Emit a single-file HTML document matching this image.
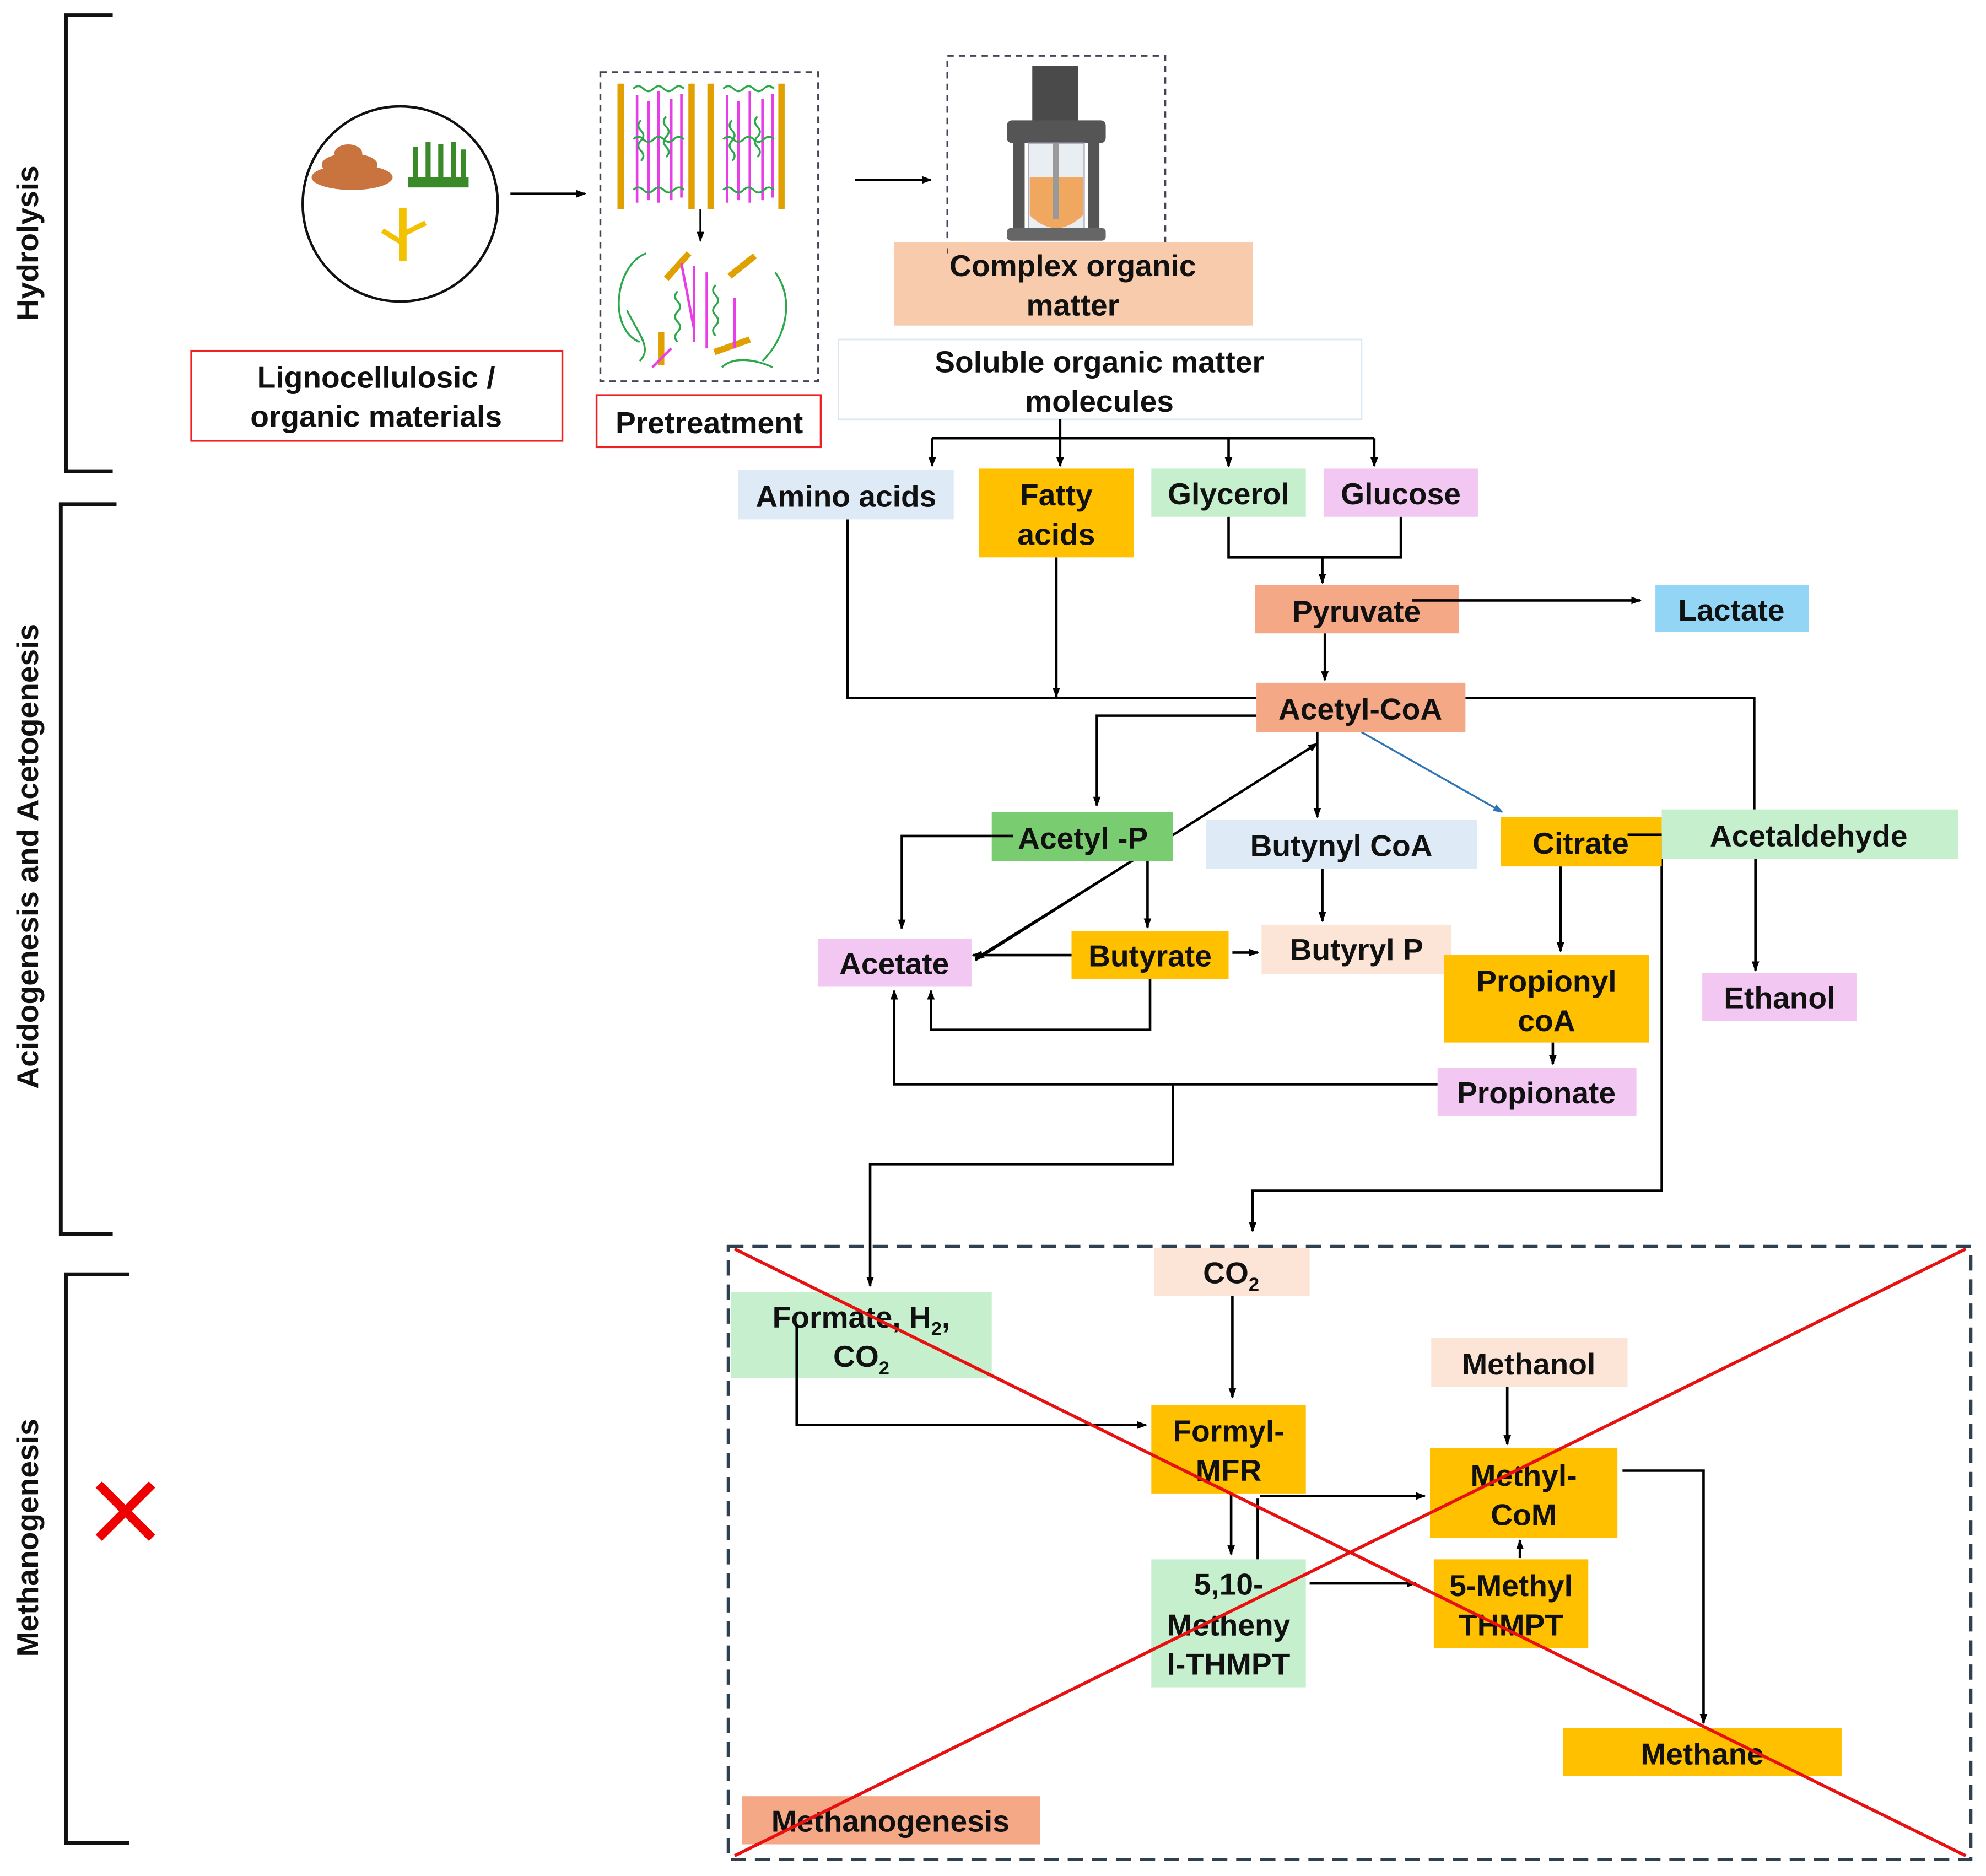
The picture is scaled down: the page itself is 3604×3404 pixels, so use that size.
<!DOCTYPE html>
<html><head><meta charset="utf-8"><style>
html,body{margin:0;padding:0;background:#fff;}
svg{display:block;}
text{font-family:"Liberation Sans",Arial,sans-serif;font-weight:bold;font-size:24px;fill:#111;text-anchor:middle;}
</style></head><body>
<svg width="3604" height="3404" viewBox="0 0 1568 1481" preserveAspectRatio="none" xmlns="http://www.w3.org/2000/svg">
<defs>
<marker id="a" markerWidth="8" markerHeight="8" refX="7" refY="4" orient="auto" markerUnits="userSpaceOnUse"><path d="M0,1 L8,4 L0,7 Z" fill="#000"/></marker>
<marker id="b" markerWidth="8" markerHeight="8" refX="7" refY="4" orient="auto" markerUnits="userSpaceOnUse"><path d="M0,1 L8,4 L0,7 Z" fill="#2E75B6"/></marker>
</defs>
<rect width="1568" height="1481" fill="#fff"/>
<!-- brackets -->
<g stroke="#111" stroke-width="3" fill="none">
<path d="M89,12 H52 V372 H89"/>
<path d="M92,398 H48 V974 H89"/>
<path d="M102,1006 H52 V1455 H102"/>
</g>
<text transform="translate(30,192) rotate(-90)">Hydrolysis</text>
<text transform="translate(30,676) rotate(-90)">Acidogenesis and Acetogenesis</text>
<text transform="translate(30,1214) rotate(-90)">Methanogenesis</text>
<path d="M78,1172 L120,1214 M120,1172 L78,1214" stroke="#e00" stroke-width="7"/>

<!-- hydrolysis icons -->
<circle cx="316" cy="161" r="77" fill="#fff" stroke="#111" stroke-width="2"/>
<ellipse cx="278" cy="140" rx="32" ry="10" fill="#c9733f"/>
<ellipse cx="276" cy="130" rx="22" ry="9" fill="#c9733f"/>
<ellipse cx="275" cy="121" rx="11" ry="7" fill="#c9733f"/>
<rect x="322" y="140" width="48" height="8" fill="#3a8a2a"/>
<g stroke="#3a8a2a" stroke-width="4"><path d="M328,140V116 M338,140V112 M348,140V114 M358,140V112 M366,140V118"/></g>
<rect x="315" y="164" width="6" height="42" fill="#f2c200"/>
<path d="M318,185 L336,176 M318,192 L302,182" stroke="#f2c200" stroke-width="4"/>
<rect x="151" y="277" width="293" height="71" fill="none" stroke="#e22" stroke-width="1.5"/>
<text x="297" y="306">Lignocellulosic /</text>
<text x="297" y="337">organic materials</text>
<line x1="403" y1="153" x2="462" y2="153" stroke="#000" stroke-width="2" marker-end="url(#a)"/>
<rect x="474" y="57" width="172" height="244" fill="none" stroke="#445" stroke-width="1.5" stroke-dasharray="5,4"/>
<g stroke="#e0a000" stroke-width="5">
<path d="M490,66V165 M546,66V165 M561,66V165 M617,66V165"/>
<path d="M526,220L544,200 M576,218L596,202 M522,262L522,288 M564,278L592,268"/>
</g>
<g stroke="#e83ee8" stroke-width="2">
<path d="M503,75V160 M512,80V158 M520,72V160 M530,78V158 M538,74V156 M574,75V160 M583,80V158 M592,72V160 M602,78V158 M610,74V156 M548,210V270 M558,215V275 M538,208L548,260 M580,235V275 M530,275L515,290"/>
</g>
<g stroke="#2aa84a" stroke-width="1.5" fill="none">
<path d="M500,70q4,-4 8,0t8,0t8,0t8,0t8,0 M500,110q4,-4 8,0t8,0t8,0t8,0t8,0 M500,150q4,-4 8,0t8,0t8,0t8,0t8,0 M571,70q4,-4 8,0t8,0t8,0t8,0t8,0 M571,110q4,-4 8,0t8,0t8,0t8,0t8,0 M571,150q4,-4 8,0t8,0t8,0t8,0t8,0"/>
<path d="M506,95q-4,4 0,8t0,8t0,8t0,8 M526,92q-4,4 0,8t0,8t0,8t0,8 M578,95q-4,4 0,8t0,8t0,8t0,8 M598,92q-4,4 0,8t0,8t0,8t0,8"/>
<path d="M510,200c-25,10 -30,60 -5,70 M535,230q-4,4 0,8t0,8t0,8t0,8t0,8 M565,225q-4,4 0,8t0,8t0,8t0,8t0,8 M612,215c15,20 10,50 -10,70 M570,290c10,-10 30,-5 40,0 M495,245c10,20 20,30 10,40"/>
</g>
<line x1="553" y1="165" x2="553" y2="190" stroke="#000" stroke-width="1.5" marker-end="url(#a)"/>
<rect x="471" y="312" width="177" height="41" fill="none" stroke="#e22" stroke-width="1.5"/>
<text x="560" y="342">Pretreatment</text>
<line x1="675" y1="142" x2="735" y2="142" stroke="#000" stroke-width="2" marker-end="url(#a)"/>
<!-- reactor -->
<rect x="815" y="52" width="36" height="48" fill="#4a4a4a"/>
<rect x="795" y="95" width="78" height="18" rx="4" fill="#555"/>
<rect x="800" y="113" width="9" height="75" fill="#555"/>
<rect x="859" y="113" width="9" height="75" fill="#555"/>
<rect x="812" y="113" width="44" height="70" fill="#e8eef2" stroke="#aab" stroke-width="1"/>
<path d="M813,140 H855 V170 Q834,190 813,170 Z" fill="#f0a860"/>
<rect x="831" y="113" width="5" height="60" fill="#999"/>
<rect x="795" y="180" width="78" height="10" rx="3" fill="#666"/>
<rect x="748" y="44" width="172" height="152" fill="none" stroke="#445" stroke-width="1.5" stroke-dasharray="5,4"/>
<rect x="706" y="191" width="283" height="66" fill="#F8CBAD"/>
<line x1="748" y1="196" x2="748" y2="200" stroke="#445"/>
<text x="847" y="218">Complex organic</text>
<text x="847" y="249">matter</text>
<rect x="662" y="268" width="413" height="63" fill="#fff" stroke="#dbe8f4" stroke-width="1.2"/>
<text x="868" y="294">Soluble organic matter</text>
<text x="868" y="325">molecules</text>

<!-- connectors acidogenesis -->
<g stroke="#000" stroke-width="2" fill="none">
<line x1="837" y1="331" x2="837" y2="346"/>
<line x1="736" y1="346" x2="1085" y2="346"/>
<line x1="736" y1="346" x2="736" y2="368" marker-end="url(#a)"/>
<line x1="837" y1="346" x2="837" y2="368" marker-end="url(#a)"/>
<line x1="970" y1="346" x2="970" y2="368" marker-end="url(#a)"/>
<line x1="1085" y1="346" x2="1085" y2="368" marker-end="url(#a)"/>
<path d="M970,408 V440 H1106 V408"/>
<line x1="1044" y1="440" x2="1044" y2="460" marker-end="url(#a)"/>
<line x1="1115" y1="474" x2="1295" y2="474" marker-end="url(#a)"/>
<line x1="1046" y1="500" x2="1046" y2="537" marker-end="url(#a)"/>
<path d="M669,410 V551 H992"/>
<line x1="834" y1="440" x2="834" y2="550" marker-end="url(#a)"/>
<path d="M1157,551 H1385 V639"/>
<line x1="1386" y1="678" x2="1386" y2="766" marker-end="url(#a)"/>
<path d="M992,565 H866 V636" marker-end="url(#a)"/>
<line x1="1040" y1="578" x2="1040" y2="645" marker-end="url(#a)"/>
<line x1="770" y1="758" x2="1040" y2="587" marker-end="url(#a)"/>
<line x1="906" y1="672" x2="770" y2="757" marker-end="url(#a)"/>
<path d="M800,660 H712 V733" marker-end="url(#a)"/>
<line x1="906" y1="672" x2="906" y2="732" marker-end="url(#a)"/>
<line x1="846" y1="754" x2="768" y2="754" marker-end="url(#a)"/>
<line x1="973" y1="752" x2="993" y2="752" marker-end="url(#a)"/>
<line x1="1044" y1="686" x2="1044" y2="727" marker-end="url(#a)"/>
<path d="M908,773 V813 H735 V782" marker-end="url(#a)"/>
<line x1="1232" y1="684" x2="1232" y2="751" marker-end="url(#a)"/>
<line x1="1226" y1="823" x2="1226" y2="840" marker-end="url(#a)"/>
<path d="M1135,856 H706 V782" marker-end="url(#a)"/>
<path d="M926,856 V919 H687 V1015" marker-end="url(#a)"/>
<path d="M1285,659 H1312 V940 H989 V972" marker-end="url(#a)"/>
</g>
<line x1="1075" y1="578" x2="1186" y2="641" stroke="#2E75B6" stroke-width="1.5" marker-end="url(#b)"/>

<!-- nodes acidogenesis -->
<rect x="583" y="371" width="170" height="39" fill="#DEEBF7"/><text x="668" y="400">Amino acids</text>
<rect x="773" y="370" width="122" height="70" fill="#FFC000"/><text x="834" y="399">Fatty</text><text x="834" y="430">acids</text>
<rect x="909" y="370" width="122" height="38" fill="#C6EFCE"/><text x="970" y="398">Glycerol</text>
<rect x="1045" y="370" width="122" height="38" fill="#F2C8F2"/><text x="1106" y="398">Glucose</text>
<rect x="991" y="462" width="161" height="38" fill="#F4A886"/><text x="1071" y="491">Pyruvate</text>
<line x1="1115" y1="474" x2="1152" y2="474" stroke="#000" stroke-width="2"/>
<rect x="1307" y="462" width="121" height="37" fill="#92D5F5"/><text x="1367" y="490">Lactate</text>
<rect x="992" y="539" width="165" height="39" fill="#F4A886"/><text x="1074" y="568">Acetyl-CoA</text>
<rect x="783" y="641" width="143" height="39" fill="#7ACC70"/><text x="855" y="670">Acetyl -P</text>
<line x1="800" y1="660" x2="906" y2="672" stroke="none"/>
<path d="M783,660 H800" stroke="#000" stroke-width="2"/>
<rect x="952" y="647" width="214" height="39" fill="#DEEBF7"/><text x="1059" y="676">Butynyl CoA</text>
<rect x="1185" y="645" width="127" height="39" fill="#FFC000"/><text x="1248" y="674">Citrate</text>
<path d="M1285,659 H1312" stroke="#000" stroke-width="2"/>
<rect x="1312" y="639" width="234" height="39" fill="#C6EFCE"/><text x="1428" y="668">Acetaldehyde</text>
<rect x="646" y="741" width="121" height="38" fill="#F2C8F2"/><text x="706" y="769">Acetate</text>
<rect x="846" y="735" width="124" height="38" fill="#FFC000"/><text x="908" y="763">Butyrate</text>
<rect x="996" y="730" width="150" height="39" fill="#FCE4D6"/><text x="1071" y="758">Butyryl P</text>
<rect x="1140" y="754" width="162" height="69" fill="#FFC000"/><text x="1221" y="783">Propionyl</text><text x="1221" y="814">coA</text>
<rect x="1344" y="768" width="122" height="38" fill="#F2C8F2"/><text x="1405" y="796">Ethanol</text>
<rect x="1135" y="843" width="157" height="38" fill="#F2C8F2"/><text x="1213" y="871">Propionate</text>

<!-- methanogenesis -->
<g stroke="#000" stroke-width="2" fill="none">
<line x1="973" y1="1023" x2="973" y2="1103" marker-end="url(#a)"/>
<line x1="1190" y1="1095" x2="1190" y2="1140" marker-end="url(#a)"/>
<line x1="995" y1="1181" x2="1125" y2="1181" marker-end="url(#a)"/>
<line x1="972" y1="1179" x2="972" y2="1227" marker-end="url(#a)"/>
<line x1="993" y1="1183" x2="993" y2="1231"/>
<line x1="1034" y1="1250" x2="1118" y2="1250" marker-end="url(#a)"/>
<line x1="1200" y1="1230" x2="1200" y2="1216" marker-end="url(#a)"/>
<path d="M1281,1161 H1345 V1360" marker-end="url(#a)"/>
</g>
<rect x="911" y="985" width="123" height="38" fill="#FCE4D6"/><text x="972" y="1013">CO<tspan font-size="15" dy="6">2</tspan></text>
<rect x="577" y="1020" width="206" height="68" fill="#C6EFCE"/>
<text x="680" y="1048">Formate, H<tspan font-size="15" dy="6">2</tspan><tspan dy="-6">,</tspan></text>
<text x="680" y="1079">CO<tspan font-size="15" dy="6">2</tspan></text>
<path d="M629,1045 V1125 H905" stroke="#000" stroke-width="2" fill="none" marker-end="url(#a)"/>
<rect x="1130" y="1056" width="155" height="39" fill="#FCE4D6"/><text x="1207" y="1085">Methanol</text>
<rect x="909" y="1109" width="122" height="70" fill="#FFC000"/><text x="970" y="1138">Formyl-</text><text x="970" y="1169">MFR</text>
<line x1="995" y1="1181" x2="1031" y2="1181" stroke="#000" stroke-width="2"/>
<line x1="972" y1="1179" x2="972" y2="1179"/>
<rect x="1129" y="1143" width="148" height="71" fill="#FFC000"/><text x="1203" y="1173">Methyl-</text><text x="1203" y="1204">CoM</text>
<rect x="909" y="1231" width="122" height="101" fill="#C6EFCE"/><text x="970" y="1259">5,10-</text><text x="970" y="1291">Metheny</text><text x="970" y="1322">l-THMPT</text>
<rect x="1132" y="1231" width="122" height="70" fill="#FFC000"/><text x="1193" y="1260">5-Methyl</text><text x="1193" y="1291">THMPT</text>
<rect x="1234" y="1364" width="220" height="38" fill="#FFC000"/><text x="1344" y="1393">Methane</text>
<rect x="586" y="1418" width="235" height="38" fill="#F4A886"/><text x="703" y="1446">Methanogenesis</text>
<rect x="575" y="984" width="981" height="484" fill="none" stroke="#2F4050" stroke-width="2.5" stroke-dasharray="12,7"/>
<path d="M580,986 L1552,1465 M580,1465 L1552,986" stroke="#e81010" stroke-width="2.5"/>
</svg>
</body></html>
